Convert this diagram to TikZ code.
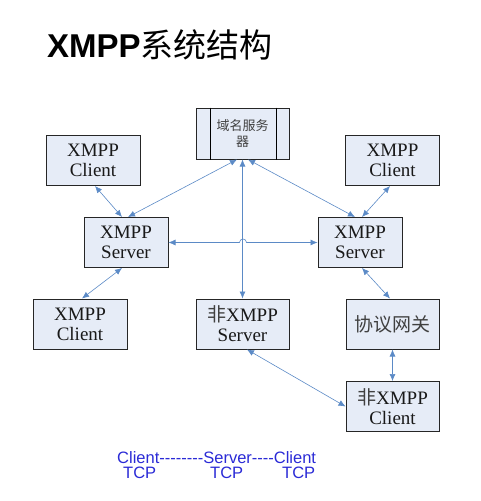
\documentclass[tikz,border=0pt]{standalone}
\usepackage{fontspec}
\setmainfont{Liberation Serif}
\newfontfamily\cjk{Noto Sans CJK SC}
\newfontfamily\headfont{Liberation Sans}
\newfontfamily\tcpfont{Liberation Sans}[Ligatures=TeXOff]
\usepackage{xcolor}
\definecolor{boxfill}{HTML}{E6ECF7}
\definecolor{linkcolor}{HTML}{5B8AC6}
\definecolor{tcpcolor}{HTML}{2A2AD6}
\definecolor{cjkgray}{HTML}{404040}
\usepackage{tikz}
\usetikzlibrary{positioning, calc, arrows.meta}

\begin{document}
\begin{tikzpicture}[x=1pt, y=-1pt,
  box/.style={draw=black!85, line width=1pt, fill=boxfill, align=center, inner sep=0pt,
    minimum height=50, font=\fontsize{19}{20}\selectfont, text=black!90},
  link/.style={draw=linkcolor, line width=0.6pt, {Latex[length=7pt,width=6pt]}-{Latex[length=7pt,width=6pt]}},
  tcplabel/.style={anchor=base west, inner sep=0pt, text=tcpcolor, font=\tcpfont\fontsize{16.5}{18}\selectfont}]
  \useasboundingbox (0,0) rectangle (481,501);
  % title
  \node[anchor=base west, inner sep=0pt, font=\fontsize{33}{36}\selectfont] (title) at (47,57)
    {{\headfont\bfseries XMPP}{\cjk 系统结构}};
  % domain name server
  \node[box, minimum width=93, minimum height=51, font=\cjk\fontsize{13}{16}\selectfont, text=cjkgray] (dns)
    at (242.5,133.5) {域名服务\\器};
  \draw[line width=1pt] ([xshift=15pt]dns.north west) -- ([xshift=15pt]dns.south west);
  \draw[line width=1pt] ([xshift=-13pt]dns.north east) -- ([xshift=-13pt]dns.south east);
  % clients, servers, gateway
  \foreach \name/\x/\y/\w/\txt in {
    c1/93/160.5/94/{XMPP\\Client},
    s1/126/242.5/84/{XMPP\\Server},
    c2/392.5/160.5/94/{XMPP\\Client},
    s2/360/242.5/84/{XMPP\\Server},
    c3/80/324/94/{XMPP\\Client},
    ns/242.5/324/93/{{\cjk\color{cjkgray}非}XMPP\\Server},
    gw/392.5/324/93/{\cjk\color{cjkgray}协议网关},
    nc/392.5/406.5/93/{{\cjk\color{cjkgray}非}XMPP\\Client}%
  } {
    \node[box, minimum width=\w] (\name) at (\x,\y) {\txt};
  }
  % connectors
  \draw[link] ([xshift=2pt]c1.south) -- ([xshift=-4pt]s1.north);
  \draw[link] ([xshift=-5.5pt]dns.south) -- ([xshift=2pt]s1.north);
  \draw[link] ([xshift=5.5pt]dns.south) -- ([xshift=-5pt]s2.north);
  \draw[link] ([xshift=-2.5pt]c2.south) -- ([xshift=2pt]s2.north);
  \draw[link] (dns.south) -- (ns.north);
  \coordinate (hop) at (243,242.5);
  \draw[link] (s1.east) -- ([xshift=-3.5pt]hop) arc[start angle=180, end angle=360, radius=3.5] -- (s2.west);
  \draw[link] ([xshift=-4pt]s1.south) -- ([xshift=2pt]c3.north);
  \draw[link] ([xshift=2pt]s2.south) -- ([xshift=-2.5pt]gw.north);
  \draw[link] ([xshift=4.5pt]ns.south) -- (nc.west);
  \draw[link] (gw.south) -- (nc.north);
  % protocol line
  \node[tcplabel] (proto) at (117,463) {Client--------Server----Client};
  \foreach \i/\x in {1/123, 2/210, 3/282}
    \node[tcplabel] (tcp\i) at (\x,478) {TCP};
\end{tikzpicture}
\end{document}
